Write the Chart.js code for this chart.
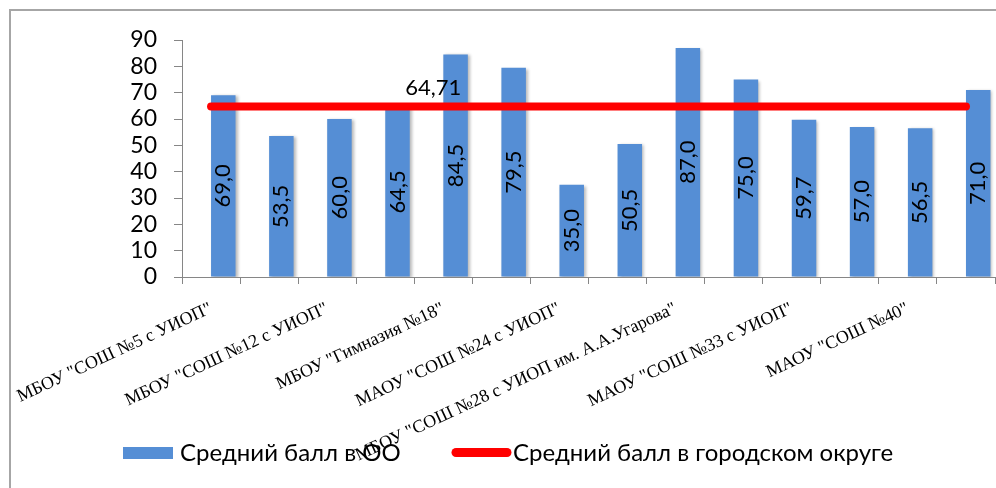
<!DOCTYPE html>
<html lang="ru">
<head>
<meta charset="utf-8">
<script src="https://cdn.jsdelivr.net/npm/chart.js@4/dist/chart.umd.min.js"></script>
<style>
  html, body { margin: 0; padding: 0; background: #ffffff; }
  #wrap { width: 996px; height: 488px; position: relative; }
</style>
</head>
<body>
<div id="wrap"><canvas id="chart" width="996" height="488"></canvas></div>
<script>
// Schools (only every other name is printed on the axis)
const categories = [
  'МБОУ "СОШ №5 с УИОП"', '',
  'МБОУ "СОШ №12 с УИОП"', '',
  'МБОУ "Гимназия №18"', '',
  'МАОУ "СОШ №24 с УИОП"', '',
  'МБОУ "СОШ №28 с УИОП им. А.А.Угарова"', '',
  'МАОУ "СОШ №33 с УИОП"', '',
  'МАОУ "СОШ №40"', ''
];

// Average score per school
const schoolScores = [69.0, 53.5, 60.0, 64.5, 84.5, 79.5, 35.0, 50.5, 87.0, 75.0, 59.7, 57.0, 56.5, 71.0];

// City district average, repeated for every school
const cityAverage = [64.71, 64.71, 64.71, 64.71, 64.71, 64.71, 64.71, 64.71, 64.71, 64.71, 64.71, 64.71, 64.71, 64.71];

// Empty slot in each cluster (keeps the bars in the right half of the category)
const emptySlot = [null, null, null, null, null, null, null, null, null, null, null, null, null, null];

const yTicks = [0, 10, 20, 30, 40, 50, 60, 70, 80, 90];

const seriesNames = ['Средний балл в ОО', 'Средний балл в городском округе'];

const BAR_COLOR = '#558ed5';
const LINE_COLOR = '#ff0000';
const AXIS_COLOR = '#868686';
const NUM_FONT = 'Lato, "Open Sans", "Noto Sans", sans-serif';

function fmt(v, digits) {
  return v.toFixed(digits).replace('.', ',');
}

// Outer frame of the chart
const framePlugin = {
  id: 'frame',
  beforeDraw(chart) {
    const ctx = chart.ctx;
    ctx.save();
    ctx.fillStyle = '#ffffff';
    ctx.fillRect(0, 0, chart.width, chart.height);
    ctx.strokeStyle = '#a6a6a6';
    ctx.lineWidth = 2;
    ctx.strokeRect(10, 10, chart.width + 20, chart.height + 20);
    ctx.restore();
  }
};

// Soft shadow behind the bars
const barShadow = {
  id: 'barShadow',
  beforeDatasetDraw(chart, args) {
    if (args.meta.type !== 'bar') return;
    const ctx = chart.ctx;
    ctx.save();
    ctx.shadowColor = 'rgba(0,0,0,0.28)';
    ctx.shadowBlur = 3;
    ctx.shadowOffsetX = 2;
    ctx.shadowOffsetY = 1;
  },
  afterDatasetDraw(chart, args) {
    if (args.meta.type !== 'bar') return;
    chart.ctx.restore();
  }
};

// Value labels: vertical inside the bars, and one above the city line
const valueLabels = {
  id: 'valueLabels',
  afterDatasetsDraw(chart) {
    const ctx = chart.ctx;
    ctx.save();
    ctx.fillStyle = '#000000';
    ctx.font = '22px ' + NUM_FONT;

    const barMeta = chart.getDatasetMeta(1);
    barMeta.data.forEach((bar, i) => {
      const v = schoolScores[i];
      const cy = (bar.y + bar.base) / 2;
      ctx.save();
      ctx.translate(bar.x, cy);
      ctx.rotate(-Math.PI / 2);
      ctx.textAlign = 'center';
      ctx.textBaseline = 'middle';
      ctx.fillText(fmt(v, 1), 0, 0);
      ctx.restore();
    });

    const lineMeta = chart.getDatasetMeta(2);
    const pt = lineMeta.data[4];
    ctx.textAlign = 'center';
    ctx.textBaseline = 'alphabetic';
    ctx.fillText(fmt(cityAverage[4], 2), pt.x - 10, pt.y - 11.5);
    ctx.restore();
  }
};

// Legend under the plot
const legendPlugin = {
  id: 'bottomLegend',
  afterDraw(chart) {
    const ctx = chart.ctx;
    ctx.save();
    ctx.font = '24px ' + NUM_FONT;
    ctx.fillStyle = '#000000';
    ctx.textBaseline = 'alphabetic';
    ctx.textAlign = 'left';

    // bar series swatch
    ctx.fillStyle = chart.data.datasets[1].backgroundColor;
    ctx.fillRect(123, 447, 50, 12);
    ctx.fillStyle = '#000000';
    ctx.fillText(chart.data.datasets[1].label, 180, 461);

    // line series swatch
    ctx.strokeStyle = chart.data.datasets[2].borderColor;
    ctx.lineWidth = 9;
    ctx.lineCap = 'round';
    ctx.beginPath();
    ctx.moveTo(456, 452.5);
    ctx.lineTo(507, 452.5);
    ctx.stroke();
    ctx.fillText(chart.data.datasets[2].label, 513, 461);
    ctx.restore();
  }
};

new Chart(document.getElementById('chart'), {
  data: {
    labels: categories,
    datasets: [
      {
        type: 'bar',
        label: '',
        data: emptySlot,
        backgroundColor: 'rgba(0,0,0,0)',
        categoryPercentage: 0.844,
        barPercentage: 1.0,
        order: 1
      },
      {
        type: 'bar',
        label: seriesNames[0],
        data: schoolScores,
        backgroundColor: BAR_COLOR,
        borderWidth: 0,
        categoryPercentage: 0.844,
        barPercentage: 1.0,
        order: 2
      },
      {
        type: 'line',
        label: seriesNames[1],
        data: cityAverage,
        borderColor: LINE_COLOR,
        backgroundColor: LINE_COLOR,
        borderWidth: 8,
        borderCapStyle: 'round',
        pointRadius: 0,
        pointHoverRadius: 0,
        fill: false,
        tension: 0,
        order: 0
      }
    ]
  },
  options: {
    responsive: false,
    animation: false,
    devicePixelRatio: 1,
    events: [],
    layout: { padding: { left: 0, right: 1, top: 40, bottom: 0 } },
    plugins: {
      legend: { display: false },
      tooltip: { enabled: false },
      title: { display: false }
    },
    scales: {
      x: {
        type: 'category',
        offset: true,
        grid: {
          display: true,
          offset: true,
          drawOnChartArea: false,
          drawTicks: true,
          tickLength: 7,
          color: AXIS_COLOR
        },
        border: { display: true, color: AXIS_COLOR, width: 1 },
        ticks: {
          autoSkip: false,
          minRotation: 25,
          maxRotation: 25,
          padding: 14,
          color: '#000000',
          font: { family: '"Liberation Serif", "Times New Roman", serif', size: 18 },
          callback: function (value, index) { return categories[index]; }
        },
        afterFit(scale) {
          scale.height = 211;
          scale.paddingLeft = 0;
          scale.paddingRight = 0;
        }
      },
      y: {
        type: 'linear',
        min: 0,
        max: 90,
        grid: {
          display: true,
          drawOnChartArea: false,
          drawTicks: true,
          tickLength: 8,
          color: AXIS_COLOR
        },
        border: { display: true, color: AXIS_COLOR, width: 1 },
        afterBuildTicks(scale) {
          scale.ticks = yTicks.map(v => ({ value: v }));
        },
        ticks: {
          autoSkip: false,
          stepSize: 10,
          padding: 17,
          color: '#000000',
          font: { family: NUM_FONT, size: 23 }
        },
        afterFit(scale) {
          scale.width = 182;
          scale.paddingTop = 0;
          scale.paddingBottom = 0;
        }
      }
    }
  },
  plugins: [framePlugin, barShadow, valueLabels, legendPlugin]
});
</script>
</body>
</html>
